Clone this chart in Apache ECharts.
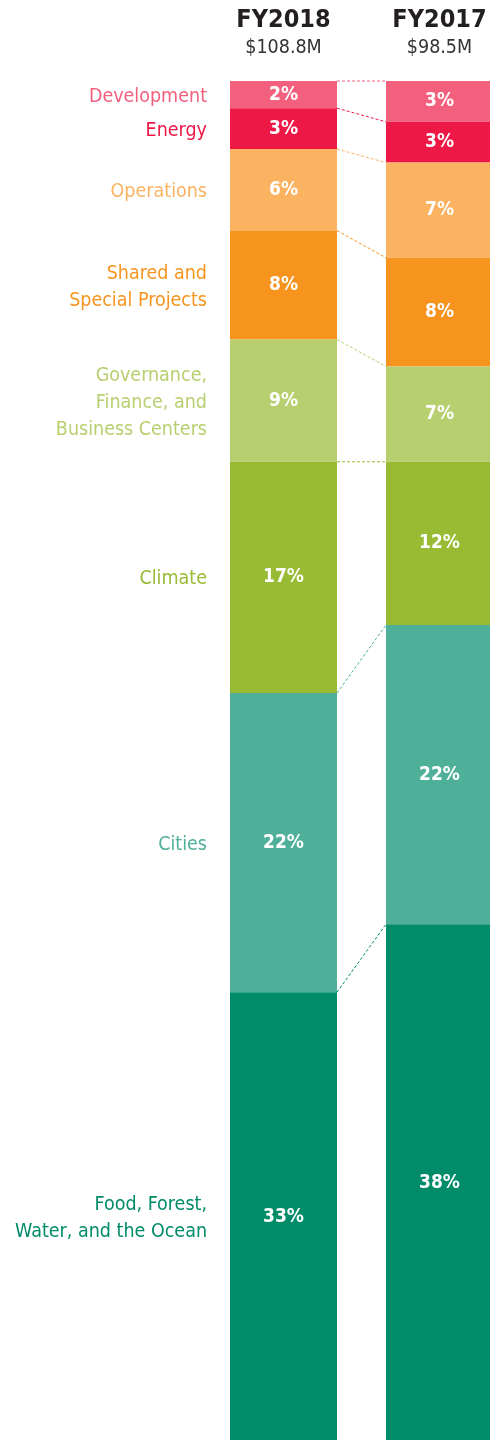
<!DOCTYPE html>
<html>
<head>
<meta charset="utf-8">
<script src="https://cdn.jsdelivr.net/npm/echarts@6/dist/echarts.min.js"></script>
<style>
  html, body { margin: 0; padding: 0; background: #fff; }
  #chart { width: 490px; height: 1440px; }
</style>
</head>
<body>
<div id="chart"></div>
<script>
// budget share by program, top segment first
const YEARS = ['FY2018', 'FY2017'];
const TOTALS = ['$108.8M', '$98.5M'];
const SEGMENTS = [
  'Development', 'Energy', 'Operations', 'Shared and\nSpecial Projects',
  'Governance,\nFinance, and\nBusiness Centers', 'Climate', 'Cities',
  'Food, Forest,\nWater, and the Ocean'
];
const FY2018 = [2, 3, 6, 8, 9, 17, 22, 33];
const FY2017 = [3, 3, 7, 8, 7, 12, 22, 38];
const SEG_COLORS = ['#f2607e', '#ee1846', '#fbb261', '#f7941e', '#b8cf6f', '#99bb33', '#4fb09a', '#008c69'];

const FONT = "'DejaVu Sans Condensed', 'Liberation Sans Narrow', sans-serif";
const BAR_W = 107;

function cumTops(vals) {
  const out = [];
  let s = 0;
  vals.forEach(v => { out.push(s); s += v; });
  return out;
}
const TOP18 = cumTops(FY2018);
const TOP17 = cumTops(FY2017);

const chart = echarts.init(document.getElementById('chart'));

const barSeries = SEGMENTS.map((name, i) => ({
  name,
  type: 'bar',
  stack: 'share',
  barWidth: BAR_W,
  data: [FY2018[i], FY2017[i]],
  itemStyle: { color: SEG_COLORS[i] },
  label: {
    show: true, position: 'inside', formatter: '{c}%',
    color: '#fff', fontFamily: FONT, fontWeight: 'bold', fontSize: 19,
  },
  emphasis: { disabled: true },
}));

// dashed connectors between bars + left-hand segment names
const linkSeries = {
  type: 'custom',
  clip: false,
  silent: true,
  z: 5,
  data: SEGMENTS.map((s, i) => [TOP18[i], TOP17[i], TOP18[i] + FY2018[i] / 2]),
  renderItem(params, api) {
    const i = params.dataIndex;
    const p1 = api.coord([0, api.value(0)]);
    const p2 = api.coord([1, api.value(1)]);
    const pc = api.coord([0, api.value(2)]);
    return {
      type: 'group',
      children: [
        {
          type: 'line',
          shape: { x1: p1[0] + BAR_W / 2, y1: p1[1], x2: p2[0] - BAR_W / 2, y2: p2[1] },
          style: { stroke: SEG_COLORS[i], lineWidth: 1, lineDash: [3, 2] },
        },
        {
          type: 'text',
          x: pc[0] - BAR_W / 2 - 23,
          y: pc[1] + 2,
          style: {
            text: SEGMENTS[i], fill: SEG_COLORS[i], fontFamily: FONT, fontSize: 19.5,
            align: 'right', verticalAlign: 'middle', lineHeight: 27,
          },
        },
      ],
    };
  },
};

chart.setOption({
  backgroundColor: '#fff',
  animation: false,
  grid: { left: 205.5, width: 312, top: 81, height: 1360, containLabel: false, outerBoundsMode: 'none' },
  xAxis: {
    type: 'category',
    position: 'top',
    data: YEARS,
    axisLine: { show: false },
    axisTick: { show: false },
    axisLabel: {
      margin: 20,
      formatter: (v, i) => `{y|${v}}\n{t|${TOTALS[i]}}`,
      rich: {
        y: { fontFamily: FONT, fontSize: 25, fontWeight: 'bold', color: '#231f20', lineHeight: 30 },
        t: { fontFamily: FONT, fontSize: 19.5, color: '#333', lineHeight: 26 },
      },
    },
  },
  yAxis: {
    type: 'value', min: 0, max: 100, inverse: true, show: false,
  },
  series: [...barSeries, linkSeries],
});
</script>
</body>
</html>
